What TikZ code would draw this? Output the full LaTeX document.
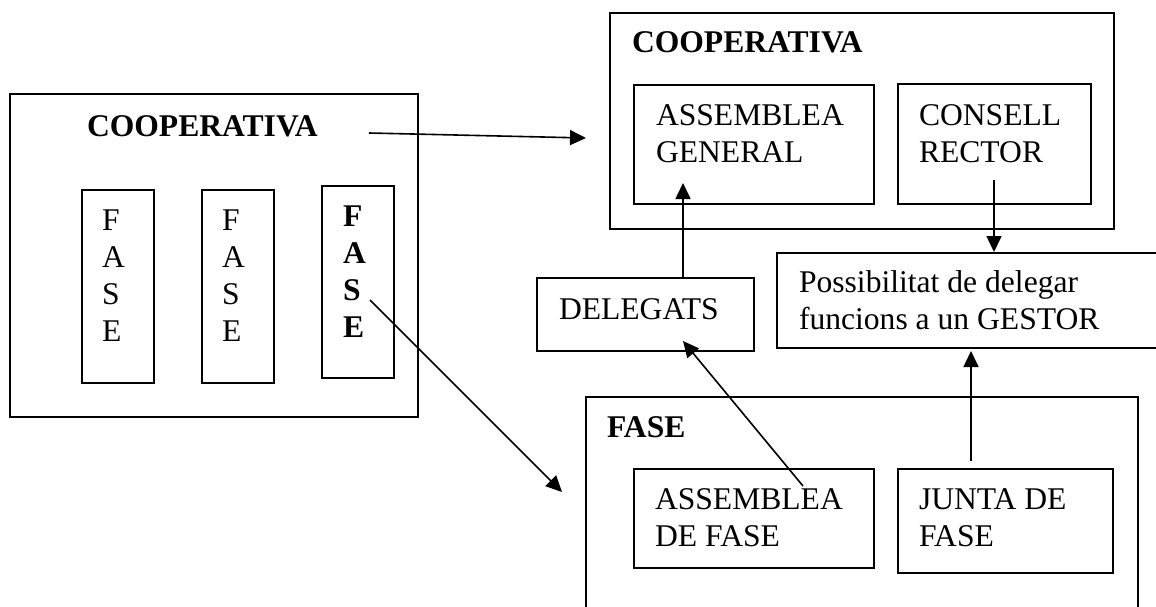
\documentclass[tikz,border=0pt]{standalone}
\usepackage{fontspec}
\setmainfont{Liberation Serif}
\usetikzlibrary{arrows.meta}
\begin{document}
\begin{tikzpicture}[x=1pt,y=-1pt,
  box/.style={draw, line width=1.9pt, rectangle, outer sep=0pt, inner sep=0pt, anchor=north west},
  txt/.style={anchor=base west, inner sep=0pt, outer sep=0pt, align=left, font=\fontsize{31.6}{37}\selectfont},
  ttl/.style={txt, font=\fontsize{31.6}{37}\selectfont\bfseries},
  arr/.style={line width=1.6pt, -{Triangle[length=16pt,width=15pt]}}]
\clip (0,0) rectangle (1156,607);
\fill[white] (0,0) rectangle (1156,607);

% left cooperative
\node[box, minimum width=408pt, minimum height=323pt] (lcoop) at (10,94) {};
\node[ttl] (ltitle) at (87,136) {COOPERATIVA};
\node[box, minimum width=72pt, minimum height=193pt] (lf1) at (82,190) {};
\node[box, minimum width=72pt, minimum height=193pt] (lf2) at (202,190) {};
\node[box, minimum width=72pt, minimum height=192pt] (lf3) at (322,186) {};
% multi-line texts: base anchor is the baseline of the last line
\node[txt] (lf1t) at (102,341) {F\\A\\S\\E};
\node[txt] (lf2t) at (222,341) {F\\A\\S\\E};
\node[ttl] (lf3t) at (343,337) {F\\A\\S\\E};

% right cooperative
\node[box, minimum width=504pt, minimum height=216pt] (rcoop) at (610,13) {};
\node[ttl] (rtitle) at (632,53) {COOPERATIVA};
\node[box, minimum width=240pt, minimum height=119pt] (ag) at (634,85) {};
\node[txt] (agt) at (656,162) {ASSEMBLEA\\GENERAL};
\node[box, minimum width=193pt, minimum height=120pt] (cr) at (898,84) {};
\node[txt] (crt) at (919,162) {CONSELL\\RECTOR};

% delegats & gestor
\node[box, minimum width=217pt, minimum height=73pt] (del) at (537,278) {};
\node[txt] (delt) at (559,319) {DELEGATS};
\node[box, minimum width=420pt, minimum height=95pt] (poss) at (777,253) {};
\node[txt] (posst) at (799,329) {Possibilitat de delegar\\funcions a un GESTOR};

% fase
\node[box, minimum width=552pt, minimum height=260pt] (fase) at (586,397) {};
\node[ttl] (ftitle) at (607,437) {FASE};
\node[box, minimum width=240pt, minimum height=99pt] (adf) at (634,469) {};
\node[txt] (adft) at (655,546) {ASSEMBLEA\\DE FASE};
\node[box, minimum width=215pt, minimum height=104pt] (jdf) at (898,469) {};
\node[txt] (jdft) at (919,546) {JUNTA DE\\FASE};

% connector ends
\coordinate (c1s) at (369,133);
\coordinate (c1e) at (586,138);
\coordinate (c2s) at (370,300);
\coordinate (c2e) at (562,492);
\coordinate (c3s) at (803,486);
\coordinate (c3e) at (683,341);
\coordinate (c4s) at (683,278);
\coordinate (c4e) at (683,183);
\coordinate (c5s) at (994,180);
\coordinate (c5e) at (994,252);
\coordinate (c6s) at (971,461);
\coordinate (c6e) at (971,351);

\draw[arr] (c1s) -- (c1e);
\draw[arr] (c2s) -- (c2e);
\draw[arr] (c3s) -- (c3e);
\draw[arr] (c4s) -- (c4e);
\draw[arr] (c5s) -- (c5e);
\draw[arr] (c6s) -- (c6e);
\end{tikzpicture}
\end{document}
